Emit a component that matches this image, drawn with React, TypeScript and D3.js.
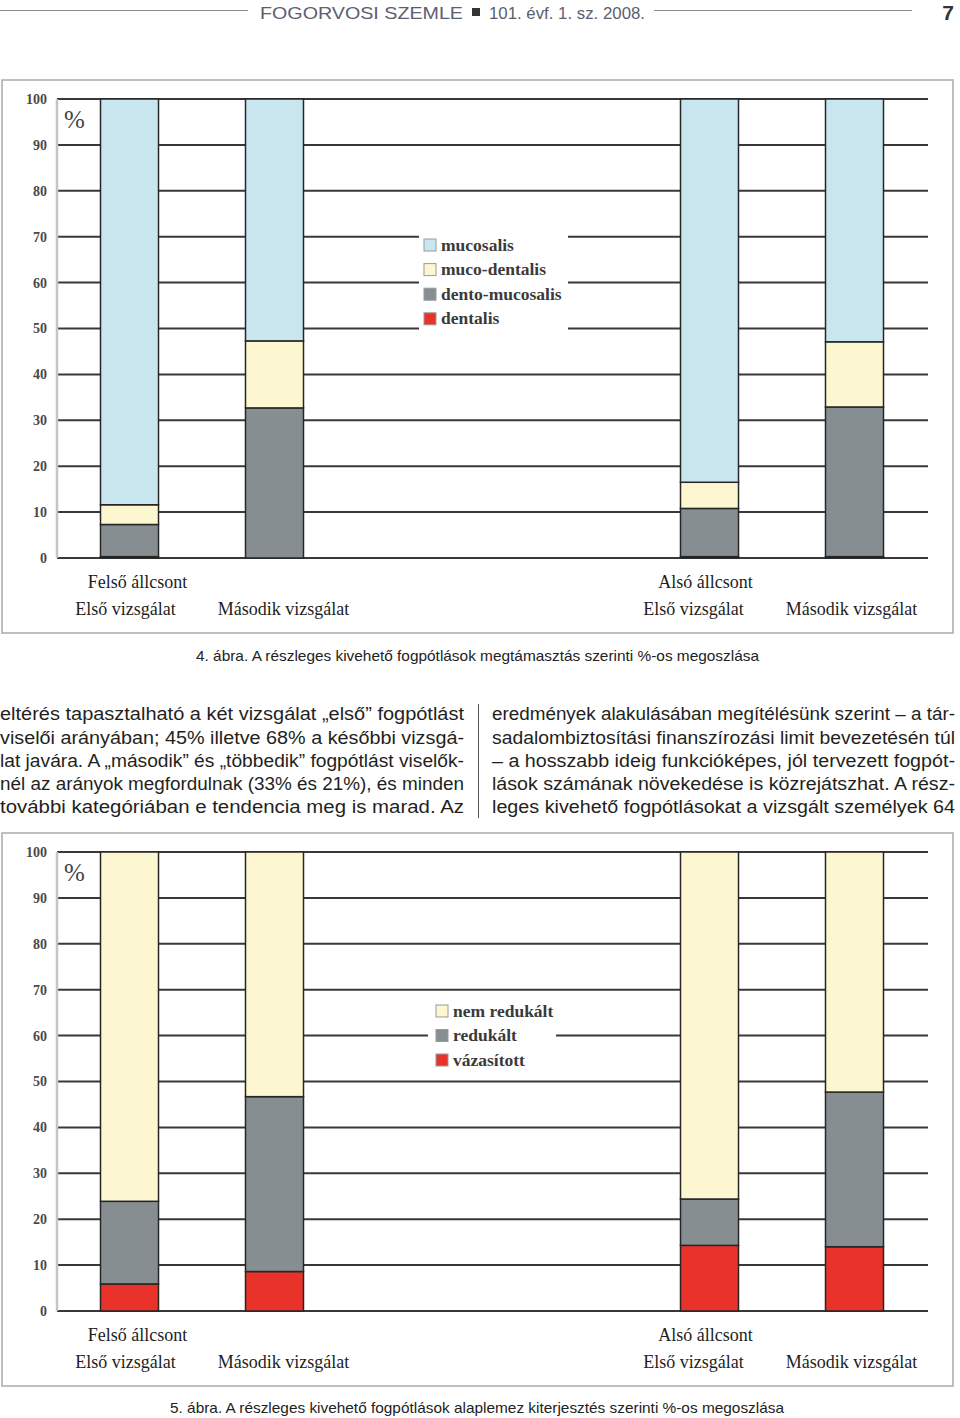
import React, { useEffect, useRef } from 'react';
import * as d3 from 'd3';

// shared categories
const jaws = ['Felső állcsont', 'Alsó állcsont'];
const exams = ['Első vizsgálat', 'Második vizsgálat'];
const yTicks = [0, 10, 20, 30, 40, 50, 60, 70, 80, 90, 100];

// 4. ábra – bars in order: Felső/Első, Felső/Második, Alsó/Első, Alsó/Második
const fig4Keys = ['dentalis', 'dento-mucosalis', 'muco-dentalis', 'mucosalis'];
const fig4Colors = ['#e8322a', '#878e92', '#fcf7d0', '#c9e6ee'];
const fig4Dentalis = [0.3, 0, 0.3, 0.3];
const fig4DentoMucosalis = [7.0, 32.7, 10.5, 32.6];
const fig4MucoDentalis = [4.3, 14.6, 5.7, 14.2];
const fig4Mucosalis = [88.4, 52.7, 83.5, 52.9];
const fig4Caption = '4. ábra. A részleges kivehető fogpótlások megtámasztás szerinti %-os megoszlása';

// 5. ábra
const fig5Keys = ['vázasított', 'redukált', 'nem redukált'];
const fig5Colors = ['#e8322a', '#878e92', '#fcf7d0'];
const fig5Vazasitott = [5.9, 8.6, 14.3, 14.0];
const fig5Redukalt = [18.0, 38.1, 10.1, 33.7];
const fig5NemRedukalt = [76.1, 53.3, 75.6, 52.3];
const fig5Caption = '5. ábra. A részleges kivehető fogpótlások alaplemez kiterjesztés szerinti %-os megoszlása';

const leftColumn = [
  'eltérés tapasztalható a két vizsgálat „első” fogpótlást',
  'viselői arányában; 45% illetve 68% a későbbi vizsgá-',
  'lat javára. A „második” és „többedik” fogpótlást viselők-',
  'nél az arányok megfordulnak (33% és 21%), és minden',
  'további kategóriában e tendencia meg is marad. Az',
];
const rightColumn = [
  'eredmények alakulásában megítélésünk szerint – a tár-',
  'sadalombiztosítási finanszírozási limit bevezetésén túl',
  '– a hosszabb ideig funkcióképes, jól tervezett fogpót-',
  'lások számának növekedése is közrejátszhat. A rész-',
  'leges kivehető fogpótlásokat a vizsgált személyek 64',
];

const SERIF = '"Liberation Serif", "DejaVu Serif", serif';
const SANS = '"Liberation Sans", Arial, sans-serif';

function buildRows(keys: string[], series: number[][]) {
  const rows: any[] = [];
  jaws.forEach((jaw, j) => {
    exams.forEach((exam, e) => {
      const i = j * 2 + e;
      const row: any = { jaw, exam };
      keys.forEach((k, s) => (row[k] = series[s][i]));
      rows.push(row);
    });
  });
  return rows;
}

function drawFigure(root: any, top: number, keys: string[], colors: string[], series: number[][], legend: any) {
  const g = root.append('g').attr('transform', `translate(0,${top})`);

  // frame
  g.append('rect')
    .attr('x', 2)
    .attr('y', 0)
    .attr('width', 951)
    .attr('height', 553)
    .attr('fill', '#fff')
    .attr('stroke', '#aaa')
    .attr('stroke-width', 1.5);

  const y = d3.scaleLinear().domain([0, 100]).range([478, 19]);
  const xJaw = d3.scaleBand().domain(jaws).range([57, 927]).paddingInner(0.5).paddingOuter(0);
  const xExam = d3
    .scaleBand()
    .domain(exams)
    .range([0, xJaw.bandwidth()])
    .paddingInner(0.6)
    .paddingOuter(0.3);

  // grid lines
  g.selectAll('.grid')
    .data(yTicks)
    .join('line')
    .attr('x1', 57)
    .attr('x2', 928)
    .attr('y1', (d: number) => y(d))
    .attr('y2', (d: number) => y(d))
    .attr('stroke', '#383838')
    .attr('stroke-width', 2);

  // y axis line
  g.append('line')
    .attr('x1', 57)
    .attr('x2', 57)
    .attr('y1', y(0))
    .attr('y2', y(100))
    .attr('stroke', '#c4c4c4')
    .attr('stroke-width', 2.5);

  g.selectAll('.tick')
    .data(yTicks)
    .join('text')
    .attr('x', 47)
    .attr('y', (d: number) => y(d))
    .attr('dy', '0.35em')
    .attr('text-anchor', 'end')
    .attr('font-family', SERIF)
    .attr('font-size', 14)
    .attr('font-weight', 'bold')
    .attr('fill', '#4a4a4a')
    .text((d: number) => d);

  g.append('text')
    .attr('x', 64)
    .attr('y', y(100) + 29)
    .attr('font-family', SERIF)
    .attr('font-size', 25)
    .attr('fill', '#444')
    .text('%');

  // stacked bars
  const rows = buildRows(keys, series);
  const stacked = d3.stack().keys(keys)(rows);
  const color = d3.scaleOrdinal<string>().domain(keys).range(colors);
  const barX = (d: any) => (xJaw(d.data.jaw) as number) + (xExam(d.data.exam) as number);

  stacked.forEach((layer: any) => {
    g.append('g')
      .selectAll('rect')
      .data(layer)
      .join('rect')
      .attr('x', barX)
      .attr('width', xExam.bandwidth())
      .attr('y', (d: any) => y(d[1]))
      .attr('height', (d: any) => Math.max(0, y(d[0]) - y(d[1])))
      .attr('fill', color(layer.key))
      .attr('stroke', (d: any) => (d[1] - d[0] > 0 ? '#262626' : 'none'))
      .attr('stroke-width', 1.5);
  });

  // legend
  g.append('rect')
    .attr('x', legend.x)
    .attr('y', legend.y)
    .attr('width', legend.w)
    .attr('height', legend.h)
    .attr('fill', '#fff');
  const items = keys.slice().reverse();
  const li = g
    .selectAll('.legend')
    .data(items)
    .join('g')
    .attr('transform', (d: string, i: number) => `translate(${legend.x + legend.pad},${legend.first + i * legend.step})`);
  li.append('rect')
    .attr('x', 0)
    .attr('y', -6)
    .attr('width', 12)
    .attr('height', 12)
    .attr('fill', (d: string) => color(d))
    .attr('stroke', '#9a9a9a')
    .attr('stroke-width', 1);
  li.append('text')
    .attr('x', 17)
    .attr('dy', '0.32em')
    .attr('font-family', SERIF)
    .attr('font-size', 17.5)
    .attr('font-weight', 'bold')
    .attr('fill', '#3a3a3a')
    .text((d: string) => d);

  // category labels (the printed labels sit a little off the bar centres)
  const labelShift = [5, -7];
  jaws.forEach((jaw, j) => {
    const x0 = (xJaw(jaw) as number) + labelShift[j];
    const cFirst = x0 + (xExam(exams[0]) as number) + xExam.bandwidth() / 2;
    const cSecond = x0 + (xExam(exams[1]) as number) + xExam.bandwidth() / 2;
    const lab = (x: number, yy: number, t: string) =>
      g.append('text')
        .attr('x', x)
        .attr('y', yy)
        .attr('text-anchor', 'middle')
        .attr('font-family', SERIF)
        .attr('font-size', 18)
        .attr('fill', '#1e1e1e')
        .text(t);
    lab(cFirst + 3, 508, jaw);
    lab(cFirst - 9, 535, exams[0]);
    lab(cSecond + 4, 535, exams[1]);
  });
}

export default function App() {
  const svgRef = useRef<SVGSVGElement>(null);

  useEffect(() => {
    document.body.style.margin = '0';
    const svg = d3.select(svgRef.current);
    svg.selectAll('*').remove();

    // running header
    svg.append('line').attr('x1', 0).attr('x2', 248).attr('y1', 10.5).attr('y2', 10.5).attr('stroke', '#8a8a8a');
    svg.append('line').attr('x1', 654).attr('x2', 912).attr('y1', 10.5).attr('y2', 10.5).attr('stroke', '#8a8a8a');
    svg.append('text')
      .attr('x', 260).attr('y', 19)
      .attr('font-family', SANS).attr('font-size', 17).attr('fill', '#5a6070')
      .attr('textLength', 203).attr('lengthAdjust', 'spacingAndGlyphs')
      .text('FOGORVOSI SZEMLE');
    svg.append('rect').attr('x', 472).attr('y', 8).attr('width', 8).attr('height', 8).attr('fill', '#333');
    svg.append('text')
      .attr('x', 489).attr('y', 19)
      .attr('font-family', SANS).attr('font-size', 17).attr('fill', '#5a6070')
      .attr('textLength', 156).attr('lengthAdjust', 'spacingAndGlyphs')
      .text('101. évf. 1. sz. 2008.');
    svg.append('text')
      .attr('x', 954).attr('y', 20).attr('text-anchor', 'end')
      .attr('font-family', SANS).attr('font-size', 21).attr('font-weight', 'bold').attr('fill', '#333')
      .text('7');

    drawFigure(svg, 80, fig4Keys, fig4Colors,
      [fig4Dentalis, fig4DentoMucosalis, fig4MucoDentalis, fig4Mucosalis],
      { x: 419, y: 148, w: 149, h: 103, pad: 5, first: 165, step: 24.6 });
    drawFigure(svg, 833, fig5Keys, fig5Colors,
      [fig5Vazasitott, fig5Redukalt, fig5NemRedukalt],
      { x: 428, y: 164, w: 128, h: 78, pad: 8, first: 178, step: 24.5 });

    // captions
    svg.append('text')
      .attr('x', 196).attr('y', 661)
      .attr('font-family', SANS).attr('font-size', 14.5).attr('fill', '#222')
      .attr('textLength', 563).attr('lengthAdjust', 'spacingAndGlyphs')
      .text(fig4Caption);
    svg.append('text')
      .attr('x', 170).attr('y', 1413)
      .attr('font-family', SANS).attr('font-size', 14.5).attr('fill', '#222')
      .attr('textLength', 614).attr('lengthAdjust', 'spacingAndGlyphs')
      .text(fig5Caption);

    // body text, two justified columns
    const baselines = [720, 743.5, 767, 790, 813];
    svg.selectAll('.lcol')
      .data(leftColumn)
      .join('text')
      .attr('x', 0)
      .attr('y', (d: string, i: number) => baselines[i])
      .attr('font-family', SANS).attr('font-size', 17.5).attr('fill', '#231f20')
      .attr('textLength', 464).attr('lengthAdjust', 'spacingAndGlyphs')
      .text((d: string) => d);
    svg.selectAll('.rcol')
      .data(rightColumn)
      .join('text')
      .attr('x', 492)
      .attr('y', (d: string, i: number) => baselines[i])
      .attr('font-family', SANS).attr('font-size', 17.5).attr('fill', '#231f20')
      .attr('textLength', 463).attr('lengthAdjust', 'spacingAndGlyphs')
      .text((d: string) => d);
    svg.append('line').attr('x1', 478.5).attr('x2', 478.5).attr('y1', 704).attr('y2', 818).attr('stroke', '#555');
  }, []);

  return <svg ref={svgRef} width={960} height={1418} style={{ display: 'block', background: '#fff' }}></svg>;
}
